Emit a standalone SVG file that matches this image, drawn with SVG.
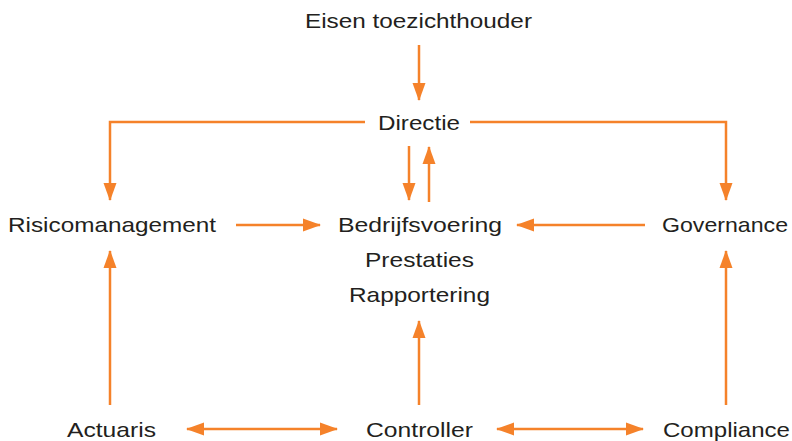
<svg xmlns="http://www.w3.org/2000/svg" width="792" height="441" viewBox="0 0 792 441">
  <style>
    .lbl { font-family: "Liberation Sans", Arial, sans-serif; font-size: 21px; fill: #231f20; }
    .c { fill: none; stroke: #f5822a; stroke-width: 2.5; }
  </style>
  <defs>
    <marker id="ah" markerUnits="userSpaceOnUse" markerWidth="18" markerHeight="14" viewBox="0 0 18 14" refX="17" refY="7" orient="auto-start-reverse">
      <path d="M0,0.5 L18,7 L0,13.5 z" fill="#f5822a"/>
    </marker>
  </defs>
  <rect width="792" height="441" fill="#ffffff"/>

  <g id="connectors">
    <path class="c" d="M419,45 V100" marker-end="url(#ah)"/>
    <path class="c" d="M365,122 H110 V200" marker-end="url(#ah)"/>
    <path class="c" d="M470,122 H726 V200" marker-end="url(#ah)"/>
    <path class="c" d="M409,146 V200" marker-end="url(#ah)"/>
    <path class="c" d="M429,202 V147" marker-end="url(#ah)"/>
    <path class="c" d="M236,225 H320" marker-end="url(#ah)"/>
    <path class="c" d="M645,225 H517" marker-end="url(#ah)"/>
    <path class="c" d="M110,405 V251" marker-end="url(#ah)"/>
    <path class="c" d="M726,405 V251" marker-end="url(#ah)"/>
    <path class="c" d="M419,405 V321" marker-end="url(#ah)"/>
    <path class="c" d="M187,429 H337" marker-start="url(#ah)" marker-end="url(#ah)"/>
    <path class="c" d="M497,429 H643" marker-start="url(#ah)" marker-end="url(#ah)"/>
  </g>

  <g id="eisen"><text class="lbl" x="305" y="28" textLength="227" lengthAdjust="spacingAndGlyphs">Eisen toezichthouder</text></g>
  <g id="directie"><text class="lbl" x="378" y="130" textLength="82" lengthAdjust="spacingAndGlyphs">Directie</text></g>
  <g id="risicomanagement"><text class="lbl" x="8" y="232" textLength="208" lengthAdjust="spacingAndGlyphs">Risicomanagement</text></g>
  <g id="bedrijfsvoering">
    <text class="lbl" x="338" y="232" textLength="164" lengthAdjust="spacingAndGlyphs">Bedrijfsvoering</text>
    <text class="lbl" x="365" y="267" textLength="109" lengthAdjust="spacingAndGlyphs">Prestaties</text>
    <text class="lbl" x="349" y="302" textLength="141" lengthAdjust="spacingAndGlyphs">Rapportering</text>
  </g>
  <g id="governance"><text class="lbl" x="662" y="232" textLength="126" lengthAdjust="spacingAndGlyphs">Governance</text></g>
  <g id="actuaris"><text class="lbl" x="67" y="437" textLength="89" lengthAdjust="spacingAndGlyphs">Actuaris</text></g>
  <g id="controller"><text class="lbl" x="366" y="437" textLength="107" lengthAdjust="spacingAndGlyphs">Controller</text></g>
  <g id="compliance"><text class="lbl" x="663" y="437" textLength="127" lengthAdjust="spacingAndGlyphs">Compliance</text></g>
</svg>
